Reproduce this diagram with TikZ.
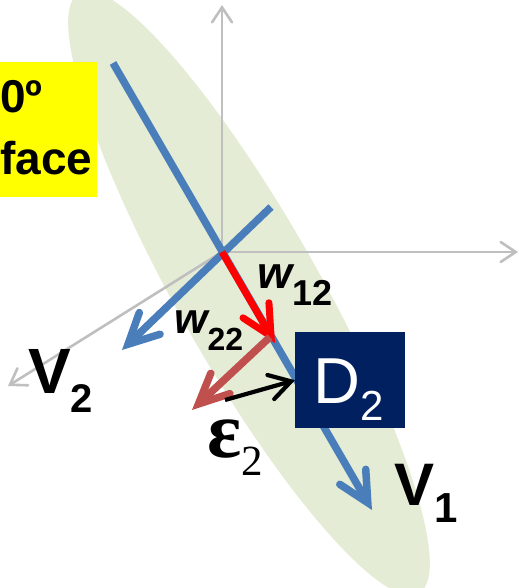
\documentclass[tikz,border=0pt]{standalone}
\usepackage{fontspec}
\setmainfont{Liberation Sans}
\newfontfamily\serifgr{Liberation Serif}
\usetikzlibrary{arrows.meta}
\definecolor{ellg}{RGB}{228,236,214}
\definecolor{vblue}{RGB}{74,126,187}
\definecolor{axgray}{RGB}{191,191,191}
\definecolor{wdred}{RGB}{192,80,77}
\definecolor{dnavy}{RGB}{0,32,96}
\definecolor{ylw}{RGB}{255,255,0}
\begin{document}
\begin{tikzpicture}[x=1pt,y=-1pt,
  axis/.style={draw=axgray,line width=2.6pt,-{Straight Barb[length=15pt,width=20pt,line cap=round]}},
  bigtip/.style={-{Straight Barb[length=30pt,width=30pt,line cap=round]}},
  vline/.style={draw=vblue,line width=7.5pt},
  lbl/.style={anchor=base west,inner sep=0pt,text=black}]
\clip (0,0) rectangle (520,588);
\useasboundingbox (0,0) rectangle (520,588);
% ellipse
\fill[ellg,rotate around={-60.5:(249,293)}] (249,293) ellipse [x radius=345, y radius=71];
% coordinates
\coordinate (O) at (222,252);
\coordinate (ay) at (222,5);
\coordinate (ax) at (518,252);
\coordinate (az) at (8,386);
\coordinate (v1s) at (113,63);
\coordinate (v1e) at (372,510);
\coordinate (v2s) at (271,207);
\coordinate (v2e) at (122,350);
\coordinate (w12e) at (275,343);
\coordinate (w22s) at (270,337);
\coordinate (w22e) at (192,410);
\coordinate (es) at (225,400);
% axes
\draw[axis] (O) -- (ay);
\draw[axis] (O) -- (ax);
\draw[axis] (O) -- (az);
% eigenvectors
\draw[vline,bigtip] (v1s) -- (v1e);
\draw[vline,bigtip] (v2s) -- (v2e);
% weights
\draw[draw=red,line width=7pt,bigtip] (O) -- (w12e);
\draw[draw=wdred,line width=7.5pt,-{Straight Barb[length=30pt,width=28pt,line cap=round]}] (w22s) -- (w22e);
% D2 box
\node[fill=dnavy,minimum width=110pt,minimum height=96pt,inner sep=0pt,anchor=north west] (D2box) at (295,332) {};
\draw[draw=black,line width=4.2pt,-{Straight Barb[length=21pt,width=25pt,line cap=round]}] (es) -- (D2box.west);
% yellow box
\node[fill=ylw,minimum width=97pt,minimum height=135pt,inner sep=0pt,anchor=north west] (ybox) at (0,62) {};
\node[lbl] (t0) at (0,113) {\fontsize{46}{46}\selectfont\bfseries 0º};
\node[lbl] (tface) at (0,174) {\fontsize{46}{46}\selectfont\bfseries face};
% labels
\node[lbl] (lw12) at (257,288) {\fontsize{45}{45}\selectfont\bfseries\itshape w\raisebox{-17pt}{\fontsize{36}{36}\selectfont\upshape 12}};
\node[lbl] (lw22) at (174,333) {\fontsize{43}{43}\selectfont\bfseries\itshape w\raisebox{-17pt}{\fontsize{32}{32}\selectfont\upshape 22}};
\node[lbl] (lv2) at (28,393) {\fontsize{64}{64}\selectfont\bfseries V\raisebox{-19pt}{\fontsize{40}{40}\selectfont 2}};
\node[lbl] (lv1) at (394,505) {\fontsize{60}{60}\selectfont\bfseries V\raisebox{-17pt}{\fontsize{42}{42}\selectfont 1}};
\node[lbl,text=white] (ld2) at (313,403) {\fontsize{65}{65}\selectfont D\raisebox{-17pt}{\fontsize{42}{42}\selectfont 2}};
\node[lbl] (leps) at (207,457) {\serifgr\fontsize{80}{80}\selectfont\bfseries ε\raisebox{-18pt}{\fontsize{43}{43}\selectfont\mdseries 2}};
\end{tikzpicture}
\end{document}
